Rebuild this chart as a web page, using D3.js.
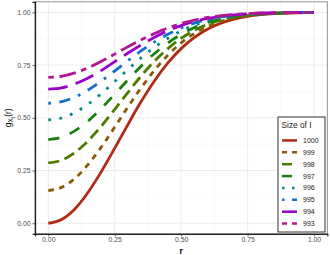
<!DOCTYPE html>
<html>
<head>
<meta charset="utf-8">
<script src="https://cdn.jsdelivr.net/npm/d3@7"></script>
<style>
  body { margin: 0; background: #fff; }
  text { font-family: "Liberation Sans", Arial, sans-serif; }
</style>
</head>
<body>
<script>
// r grid the curves were read at
var rVals = [0, 0.05, 0.1, 0.15, 0.2, 0.25, 0.3, 0.35, 0.4, 0.45, 0.5,
             0.55, 0.6, 0.65, 0.7, 0.75, 0.8, 0.85, 0.9, 0.95, 1];

// g values, one array per size of I
var g1000 = [0, .018, .068, .147, .246, .356, .469, .578, .676, .760, .828, .881, .921, .949, .968, .981, .989, .994, .997, .998, .999];
var g999  = [.155, .170, .212, .279, .362, .456, .552, .643, .726, .797, .855, .900, .933, .957, .973, .984, .991, .995, .997, .999, .999];
var g998  = [.286, .299, .335, .391, .461, .540, .621, .699, .769, .828, .877, .915, .943, .964, .977, .986, .992, .996, .998, .999, .999];
var g997  = [.397, .408, .438, .485, .545, .612, .680, .746, .805, .855, .896, .928, .952, .969, .981, .989, .993, .996, .998, .999, 1];
var g996  = [.490, .499, .525, .565, .615, .672, .729, .785, .835, .877, .912, .939, .960, .974, .984, .990, .994, .997, .998, .999, 1];
var g995  = [.569, .577, .598, .632, .675, .722, .771, .818, .860, .896, .926, .949, .966, .978, .986, .992, .995, .997, .999, .999, 1];
var g994  = [.636, .642, .661, .689, .725, .766, .807, .846, .882, .913, .937, .957, .971, .981, .988, .993, .996, .998, .999, .999, 1];
var g993  = [.692, .697, .713, .737, .768, .802, .837, .870, .900, .926, .947, .963, .976, .984, .990, .994, .997, .998, .999, .999, 1];

var sizes = ["1000", "999", "998", "997", "996", "995", "994", "993"];
var seriesVals = [g1000, g999, g998, g997, g996, g995, g994, g993];
var colors = ["#b02a14", "#8c5a06", "#4f7a00", "#16820e", "#008a8a", "#1470c8", "#9900cc", "#b3168f"];
// ggplot linetypes, in units of line width
var linetypes = ["", "2 2", "4 2", "4 4", "1 3", "1 3 4 3", "7 3", "2 2 6 2"];

var xTicks = [0, 0.25, 0.5, 0.75, 1];
var yTicks = [0, 0.25, 0.5, 0.75, 1];
var minorTicks = [0.125, 0.375, 0.625, 0.875];

var width = 330, height = 255;
var lw = 2.8;

var svg = d3.select("body").append("svg")
    .attr("width", width)
    .attr("height", height);

var x = d3.scaleLinear().domain([-0.05, 1.05]).range([35, 327.3]);
var y = d3.scaleLinear().domain([-0.05, 1.05]).range([233.8, 1.8]);

var px0 = x.range()[0], px1 = x.range()[1], py0 = y.range()[1], py1 = y.range()[0];

// grid
var grid = svg.append("g");
minorTicks.forEach(t => {
    grid.append("line").attr("x1", x(t)).attr("x2", x(t)).attr("y1", py0).attr("y2", py1)
        .attr("stroke", "#f4f4f4").attr("stroke-width", 0.6);
    grid.append("line").attr("x1", px0).attr("x2", px1).attr("y1", y(t)).attr("y2", y(t))
        .attr("stroke", "#f4f4f4").attr("stroke-width", 0.6);
});
xTicks.forEach(t => {
    grid.append("line").attr("x1", x(t)).attr("x2", x(t)).attr("y1", py0).attr("y2", py1)
        .attr("stroke", "#ebebeb").attr("stroke-width", 1);
});
yTicks.forEach(t => {
    grid.append("line").attr("x1", px0).attr("x2", px1).attr("y1", y(t)).attr("y2", y(t))
        .attr("stroke", "#ebebeb").attr("stroke-width", 1);
});

// curves
var line = d3.line()
    .x((d, i) => x(rVals[i]))
    .y(d => y(d))
    .curve(d3.curveMonotoneX);

var curves = svg.append("g");
seriesVals.forEach((vals, i) => {
    curves.append("path")
        .attr("d", line(vals))
        .attr("fill", "none")
        .attr("stroke", colors[i])
        .attr("stroke-width", lw)
        .attr("stroke-dasharray", linetypes[i] ? linetypes[i].split(" ").map(v => v * lw).join(" ") : null);
});

// panel border
svg.append("rect")
    .attr("x", px0).attr("y", py0)
    .attr("width", px1 - px0).attr("height", py1 - py0)
    .attr("fill", "none").attr("stroke", "#777").attr("stroke-width", 0.8);

// axes
var xAxis = svg.append("g")
    .attr("transform", "translate(0," + py1 + ")")
    .call(d3.axisBottom(x).tickValues(xTicks).tickFormat(d3.format(".2f")).tickSize(2.5).tickPadding(1));
var yAxis = svg.append("g")
    .attr("transform", "translate(" + px0 + ",0)")
    .call(d3.axisLeft(y).tickValues(yTicks).tickFormat(d3.format(".2f")).tickSize(2.5).tickPadding(2));

[xAxis, yAxis].forEach(a => {
    a.select(".domain").attr("stroke", "#222").attr("stroke-width", 1.3);
    a.selectAll(".tick line").attr("stroke", "#333").attr("stroke-width", 0.8);
    a.selectAll(".tick text").attr("fill", "#4d4d4d").style("font-size", "6.8px")
        .style("font-family", "'Liberation Sans', Arial, sans-serif");
});

// axis titles
svg.append("text")
    .attr("x", (px0 + px1) / 2).attr("y", 253.5)
    .attr("text-anchor", "middle")
    .style("font-size", "8.5px").style("font-weight", "bold")
    .text("r");

var yt = svg.append("text")
    .attr("transform", "translate(11," + ((py0 + py1) / 2) + ") rotate(-90)")
    .attr("text-anchor", "middle")
    .style("font-size", "8.5px");
yt.append("tspan").text("g");
yt.append("tspan").attr("dy", 2.2).style("font-size", "6.5px").text("X");
yt.append("tspan").attr("dy", 1.5).style("font-size", "5px").text("I");
yt.append("tspan").attr("dy", -3.7).text("(r)");

// legend
var lg = svg.append("g").attr("transform", "translate(278,117)");
lg.append("rect")
    .attr("width", 47).attr("height", 115)
    .attr("fill", "#fff").attr("stroke", "#333").attr("stroke-width", 1);
lg.append("text")
    .attr("x", 3.5).attr("y", 11)
    .style("font-size", "8.3px").attr("fill", "#222")
    .text("Size of I");

var ls = d3.scaleBand().domain(sizes).range([18, 113]);
sizes.forEach((s, i) => {
    var cy = ls(s) + ls.bandwidth() / 2 - 0.5;
    lg.append("line")
        .attr("x1", 4).attr("x2", 19)
        .attr("y1", cy).attr("y2", cy)
        .attr("stroke", colors[i]).attr("stroke-width", lw * 0.9)
        .attr("stroke-dasharray", linetypes[i] ? linetypes[i].split(" ").map(v => v * lw * 0.9).join(" ") : null);
    lg.append("text")
        .attr("x", 25).attr("y", cy + 2.5)
        .style("font-size", "7px").attr("fill", "#222")
        .text(s);
});
</script>
</body>
</html>
